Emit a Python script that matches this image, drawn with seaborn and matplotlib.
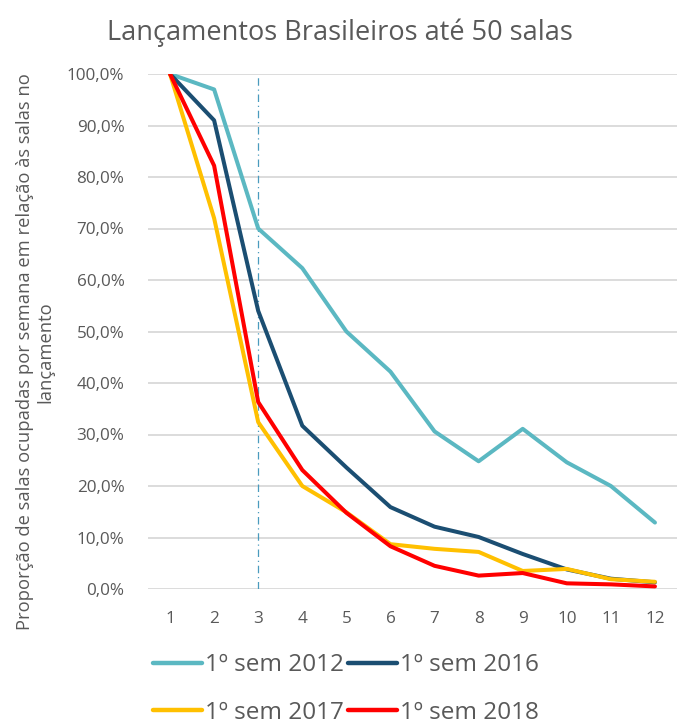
import seaborn as sns
import pandas as pd
import matplotlib.pyplot as plt
from matplotlib.ticker import FuncFormatter

# Semanas desde o lançamento
semanas = list(range(1, 13))

# Proporção de salas ocupadas (%)
sem_2012 = [100, 97.0, 70.0, 62.3, 50.0, 42.2, 30.6, 24.8, 31.1, 24.6, 20.0, 12.9]
sem_2016 = [100, 91.0, 54.0, 31.7, 23.6, 15.9, 12.1, 10.1, 6.8, 3.8, 2.0, 1.3]
sem_2017 = [100, 72.0, 32.4, 20.0, 14.9, 8.7, 7.8, 7.2, 3.5, 3.9, 1.9, 1.4]
sem_2018 = [100, 82.2, 36.3, 23.1, 14.8, 8.3, 4.5, 2.6, 3.1, 1.1, 0.9, 0.5]

series = ["1º sem 2012", "1º sem 2016", "1º sem 2017", "1º sem 2018"]
cores = ["#5BB8C2", "#1B4E72", "#FFC000", "#FF0000"]

df = pd.DataFrame({
    "semana": semanas * 4,
    "valor": [v / 100 for v in sem_2012 + sem_2016 + sem_2017 + sem_2018],
    "serie": [s for s in series for _ in semanas],
})

sns.set_style("white")
plt.rcParams["font.family"] = ["Open Sans", "DejaVu Sans"]
cinza = "#595959"

fig = plt.figure(figsize=(6.79, 7.25), dpi=100)
ax = fig.add_axes([148 / 679, 1 - 589 / 725, (677 - 148) / 679, (589 - 74) / 725])

sns.lineplot(data=df, x="semana", y="valor", hue="serie", palette=cores,
             linewidth=2.9, ax=ax, legend=False)

# linha vertical na semana 3
ax.axvline(3, color="#4A9BBE", linewidth=0.9, linestyle=(0, (6, 3, 1, 3)), zorder=1)

ax.set_xlim(0.5, 12.5)
ax.set_ylim(0, 1)
ax.set_xticks(semanas)
ax.set_yticks([i / 10 for i in range(11)])
ax.yaxis.set_major_formatter(FuncFormatter(lambda v, p: f"{v * 100:.1f}%".replace(".", ",")))
ax.grid(axis="y", color="#D9D9D9", linewidth=1.3)
ax.set_axisbelow(True)
for s in ["top", "right", "left", "bottom"]:
    ax.spines[s].set_visible(False)
ax.tick_params(axis="both", length=0, labelsize=12.3, colors=cinza)
ax.tick_params(axis="x", pad=16)
ax.tick_params(axis="y", pad=17)
ax.set_xlabel("")
ax.set_ylabel("")

fig.text(35 / 679, 1 - 352 / 725,
         "Proporção de salas ocupadas por semana em relação às salas no\nlançamento",
         rotation=90, ha="center", va="center", multialignment="center",
         fontsize=13.2, color=cinza, linespacing=1.15)

fig.text(340 / 679, 1 - 33 / 725, "Lançamentos Brasileiros até 50 salas",
         ha="center", va="center", fontsize=19.5, color=cinza)

# ordem por colunas: 2012/2017 na 1a coluna, 2016/2018 na 2a
ordem = [0, 2, 1, 3]
handles = [plt.Line2D([], [], color=cores[i], linewidth=3.2, solid_capstyle="round") for i in ordem]
fig.legend(handles, [series[i] for i in ordem], ncol=2, loc="center",
           bbox_to_anchor=(346 / 679, 1 - 689 / 725),
           frameon=False, fontsize=17.5, labelcolor=cinza, handlelength=2.0,
           handletextpad=0.12, columnspacing=0.2, labelspacing=0.95)

fig.savefig("out.png", dpi=100)
